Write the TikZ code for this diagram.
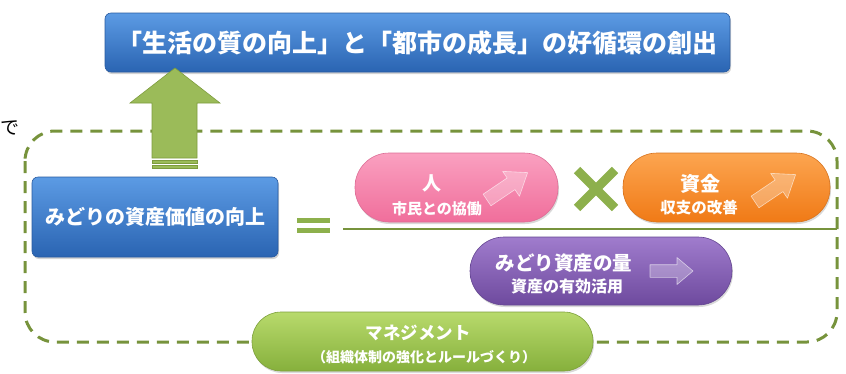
\documentclass[tikz,border=0pt]{standalone}
\usepackage{fontspec}
\setmainfont{Noto Sans CJK JP}
\usetikzlibrary{shadows}
\definecolor{olive}{HTML}{77933C}
\definecolor{xgreen}{HTML}{8DB04C}
\definecolor{arrowgreen}{HTML}{9BBB59}
\definecolor{arrowedge}{HTML}{7E9C3E}
\tikzset{
  box/.style={rounded corners=6pt, line width=0.6pt,
    drop shadow={opacity=0.35, shadow xshift=1pt, shadow yshift=-2pt},
    text=white, align=center, inner sep=0pt},
  pill/.style={rounded corners=#1, line width=0.6pt,
    drop shadow={opacity=0.3, shadow xshift=1pt, shadow yshift=-2pt},
    text=white, align=center, inner sep=0pt},
  blueshade/.style={top color={rgb,255:red,92;green,155;blue,228}, bottom color={rgb,255:red,42;green,100;blue,178}, draw={rgb,255:red,40;green,90;blue,160}},
  pinkshade/.style={top color={rgb,255:red,250;green,160;blue,192}, bottom color={rgb,255:red,240;green,110;blue,155}, draw={rgb,255:red,220;green,110;blue,150}},
  orangeshade/.style={top color={rgb,255:red,252;green,165;blue,80}, bottom color={rgb,255:red,240;green,122;blue,22}, draw={rgb,255:red,215;green,115;blue,30}},
  purpleshade/.style={top color={rgb,255:red,160;green,124;blue,205}, bottom color={rgb,255:red,110;green,74;blue,158}, draw={rgb,255:red,100;green,70;blue,145}},
  greenshade/.style={top color={rgb,255:red,184;green,218;blue,108}, bottom color={rgb,255:red,134;green,176;blue,60}, draw={rgb,255:red,125;green,160;blue,60}},
  deco/.style={fill=white, fill opacity=0.28, draw=white, draw opacity=0.6, line width=0.6pt, line join=round},
  dashedframe/.style={draw=olive, line width=3pt, dash pattern=on 12pt off 8pt, rounded corners=30pt},
  lbl/.style={text=white, inner sep=0pt},
}
\newcommand{\decoarrow}[2]{% length, head length ; drawn along +x from origin
  \path[deco] (0,-7) -- (#1-#2,-7) -- (#1-#2,-15) -- (#1,0) -- (#1-#2,15) -- (#1-#2,7) -- (0,7) -- cycle;}
\begin{document}
\begin{tikzpicture}[x=1pt,y=-1pt]
\useasboundingbox (0,0) rectangle (846,373);
% stray text at the left edge
\node[anchor=west, inner sep=0pt, font=\fontsize{19}{21}\selectfont] (de) at (0,128) {で};
% dashed frame
\draw[dashedframe] (25,131) rectangle (837,342);
% title
\node[box, blueshade, minimum width=625pt, minimum height=59pt,
  font=\fontsize{25}{28}\selectfont\bfseries] (title) at (417.5,42.5)
  {「生活の質の向上」と「都市の成長」の好循環の創出};
% left blue box
\node[box, blueshade, minimum width=246pt, minimum height=80pt,
  font=\fontsize{20}{24}\selectfont\bfseries] (value) at (155,217) {みどりの資産価値の向上};
% green up arrow
\fill[arrowgreen, draw=arrowedge, line width=0.6pt]
  (175,68) -- (220,103) -- (197,103) -- (197,158) -- (152,158) -- (152,103) -- (130,103) -- cycle;
\fill[arrowgreen, draw=arrowedge, line width=0.5pt] (152,160) rectangle (197,163);
\fill[arrowgreen, draw=arrowedge, line width=0.5pt] (152,165) rectangle (197,168);
% equals sign
\fill[xgreen] (297,218) rectangle (330,223);
\fill[xgreen] (297,228) rectangle (330,233);
% fraction line
\coordinate (fl) at (343,229);
\coordinate (fr) at (837,229);
\draw[olive, line width=2.5pt] (fl) -- (fr);
% pills
\node[pill=34pt, pinkshade, minimum width=203pt, minimum height=69pt] (hito) at (456.5,187.5) {};
\node[lbl, font=\fontsize{19}{21}\selectfont\bfseries] (hitoT) at (432,183) {人};
\node[lbl, font=\fontsize{15}{17}\selectfont\bfseries] (hitoS) at (437,209) {市民との協働};
\begin{scope}[shift={(487,200)}, rotate=34]\decoarrow{49}{20}\end{scope}

\node[pill=34pt, orangeshade, minimum width=207pt, minimum height=69pt] (shikin) at (726.5,187.5) {};
\node[lbl, font=\fontsize{20}{22}\selectfont\bfseries] (shikinT) at (700,184) {資金};
\node[lbl, font=\fontsize{15.5}{17}\selectfont\bfseries] (shikinS) at (699,208) {収支の改善};
\begin{scope}[shift={(755,202)}, rotate=34]\decoarrow{49}{20}\end{scope}

% multiplication sign
\coordinate (xc) at (596,189);
\draw[xgreen, line width=9pt] (577,170) -- (615,208);
\draw[xgreen, line width=9pt] (615,170) -- (577,208);

\node[pill=34pt, purpleshade, minimum width=262pt, minimum height=68pt] (ryo) at (601,271) {};
\node[lbl, font=\fontsize{19.5}{22}\selectfont\bfseries] (ryoT) at (564,263) {みどり資産の量};
\node[lbl, font=\fontsize{16}{18}\selectfont\bfseries] (ryoS) at (567,286) {資産の有効活用};
\begin{scope}[shift={(650,271)}, yscale=0.9]\decoarrow{43}{16}\end{scope}

\node[pill=29pt, greenshade, minimum width=341pt, minimum height=59pt] (mgmt) at (422.5,341.5) {};
\node[lbl, font=\fontsize{17.5}{20}\selectfont\bfseries] (mgmtT) at (418,333) {マネジメント};
\node[lbl, font=\fontsize{14}{16}\selectfont\bfseries] (mgmtS) at (424,357) {（組織体制の強化とルールづくり）};
\end{tikzpicture}
\end{document}
